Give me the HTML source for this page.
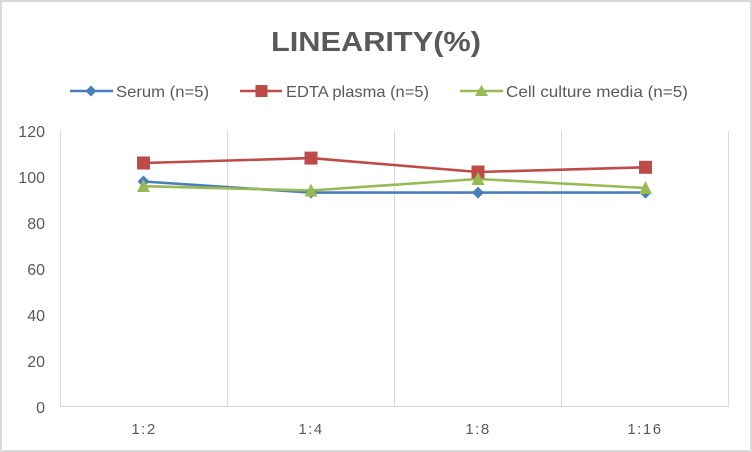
<!DOCTYPE html>
<html><head><meta charset="utf-8"><style>
html,body{margin:0;padding:0;background:#fff;}
svg{display:block;}
</style></head><body>
<svg width="752" height="452" viewBox="0 0 752 452" xmlns="http://www.w3.org/2000/svg" font-family="'Liberation Sans', sans-serif">
<rect x="0" y="0" width="752" height="452" fill="#fff"/>
<rect x="1" y="1" width="750" height="450" fill="none" stroke="#d9d9d9" stroke-width="2"/>
<text x="376" y="51" text-anchor="middle" font-size="28" font-weight="bold" fill="#595959" textLength="210" lengthAdjust="spacingAndGlyphs">LINEARITY(%)</text>
<!-- legend -->
<g stroke-width="2.5">
<line x1="70" y1="91" x2="113" y2="91" stroke="#4a7ebb"/>
<polygon points="91,85.5 96.5,91 91,96.5 85.5,91" fill="#4a7ebb"/>
<line x1="240" y1="91" x2="282" y2="91" stroke="#be4b48"/>
<rect x="255.5" y="85" width="12" height="12" fill="#be4b48" stroke="none"/>
<line x1="460" y1="91" x2="503" y2="91" stroke="#98b954"/>
<polygon points="481.5,85 488,96 475,96" fill="#98b954" stroke="none"/>
</g>
<g font-size="16" fill="#595959">
<text x="116" y="97" textLength="93" lengthAdjust="spacingAndGlyphs">Serum (n=5)</text>
<text x="286" y="97" textLength="143" lengthAdjust="spacingAndGlyphs">EDTA plasma (n=5)</text>
<text x="506" y="97" textLength="182" lengthAdjust="spacingAndGlyphs">Cell culture media (n=5)</text>
</g>
<!-- grid -->
<g stroke="#d9d9d9" stroke-width="1">
<line x1="60.5" y1="131" x2="60.5" y2="406"/>
<line x1="227.5" y1="131" x2="227.5" y2="406"/>
<line x1="394.5" y1="131" x2="394.5" y2="406"/>
<line x1="561.5" y1="131" x2="561.5" y2="406"/>
<line x1="728.5" y1="131" x2="728.5" y2="406"/>
<line x1="60" y1="406.5" x2="729" y2="406.5"/>
</g>
<!-- y labels -->
<g font-size="16" fill="#595959" text-anchor="end">
<text x="45" y="137">120</text>
<text x="45" y="183">100</text>
<text x="45" y="229">80</text>
<text x="45" y="275">60</text>
<text x="45" y="321">40</text>
<text x="45" y="367">20</text>
<text x="45" y="413">0</text>
</g>
<g font-size="15" fill="#595959" text-anchor="middle" letter-spacing="1.5">
<text x="144" y="434">1:2</text>
<text x="311" y="434">1:4</text>
<text x="478" y="434">1:8</text>
<text x="645" y="434">1:16</text>
</g>
<!-- series -->
<g fill="none" stroke-width="2.6" stroke-linejoin="round">
<polyline points="143.5,181.5 311,192.6 478,192.6 645.5,192.6" stroke="#4a7ebb"/>
<polyline points="143.5,163 311,158.1 478,172 645.5,167.3" stroke="#be4b48"/>
<polyline points="143.5,186.2 311,190.5 478,179 645.5,188" stroke="#98b954"/>
</g>
<g fill="#4a7ebb">
<polygon points="143.5,175.5 149.5,181.5 143.5,187.5 137.5,181.5"/>
<polygon points="311,186.6 317,192.6 311,198.6 305,192.6"/>
<polygon points="478,186.6 484,192.6 478,198.6 472,192.6"/>
<polygon points="645.5,186.6 651.5,192.6 645.5,198.6 639.5,192.6"/>
</g>
<g fill="#be4b48">
<rect x="137" y="156.5" width="13" height="13"/>
<rect x="304.5" y="151.6" width="13" height="13"/>
<rect x="471.5" y="165.5" width="13" height="13"/>
<rect x="639" y="160.8" width="13" height="13"/>
</g>
<g fill="#98b954">
<polygon points="143.5,179 150,192 137,192"/>
<polygon points="311,183.5 317.5,196.5 304.5,196.5"/>
<polygon points="478,172 484.5,185 471.5,185"/>
<polygon points="645.5,181 652,194 639,194"/>
</g>
</svg>
</body></html>
